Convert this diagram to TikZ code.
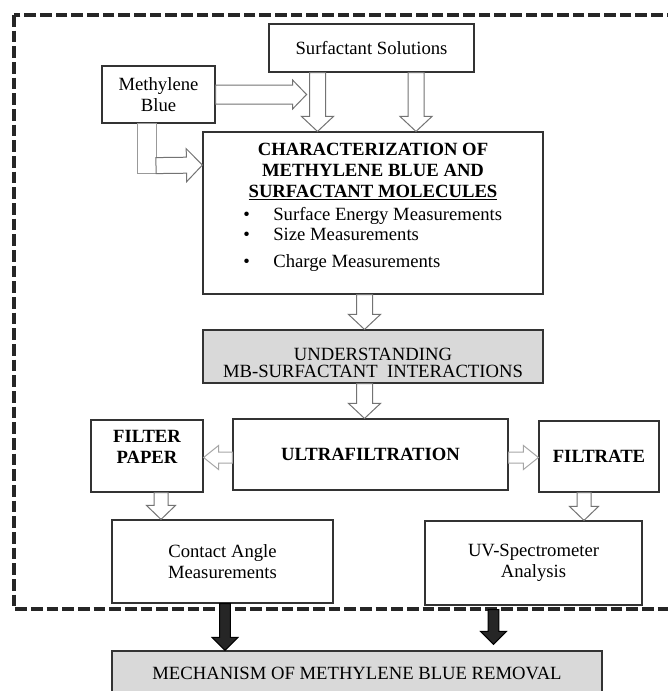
\documentclass[tikz,border=0pt]{standalone}
\usepackage{fontspec}
\setmainfont{Liberation Serif}
\usetikzlibrary{calc}

\newcommand{\diagfont}{\fontsize{11.2}{12.5}\selectfont}
\newcommand{\shaftw}{4.8pt}
\newcommand{\wingw}{9.6pt}
\newcommand{\headl}{9pt}

\begin{document}
\begin{tikzpicture}[x=0.6pt, y=-0.6pt, font=\diagfont,
  box/.style={draw=black!80, line width=0.7pt, fill=white, align=center, inner sep=0pt, font=\diagfont},
  greybox/.style={box, fill=black!15},
  heading/.style={inner sep=0pt, align=center, font=\diagfont\bfseries},
  plain/.style={inner sep=0pt, align=center, font=\fontsize{11.2}{10.5}\selectfont},
  listitem/.style={inner sep=0pt, anchor=base west, font=\diagfont},
  dims/.code n args={3}{\def\shaftw{#1}\def\wingw{#2}\def\headl{#3}},
  blk/.style={draw=black!55, fill=white, line width=0.6pt, to path={
      let \p1=(\tikztostart), \p2=(\tikztotarget), \n1={atan2(\y2-\y1,\x2-\x1)} in
      ($(\p1)+(\n1+90:\shaftw)$) -- ($(\p2)+(\n1+180:\headl)+(\n1+90:\shaftw)$)
      -- ($(\p2)+(\n1+180:\headl)+(\n1+90:\wingw)$) -- (\p2)
      -- ($(\p2)+(\n1+180:\headl)+(\n1-90:\wingw)$)
      -- ($(\p2)+(\n1+180:\headl)+(\n1-90:\shaftw)$)
      -- ($(\p1)+(\n1-90:\shaftw)$) -- cycle}},
  faint/.style={blk, draw=black!35},
  heavy/.style={blk, draw=black, fill=black!85, dims={3.2pt}{7.8pt}{7.8pt}},
  outline/.style={draw=black!85, line width=2.3pt, dash pattern=on 7pt off 2.4pt}]
  \useasboundingbox (0,0) rectangle (668,691);
  \clip (0,0) rectangle (668,691);
  % dashed frame
  \draw[outline] (14,15) rectangle (700,609);
  % nodes
  \node[box, minimum width=123pt, minimum height=28.8pt] (surf) at (371.5,48) {Surfactant Solutions};
  \node[box, minimum width=67.8pt, minimum height=34.2pt] (mb) at (158.5,94.5) {Methylene\\Blue};
  \node[box, minimum width=204pt, minimum height=97.2pt] (char) at (373,213) {};
  \node[heading] (chartitle) at (373,172) {CHARACTERIZATION OF\\METHYLENE BLUE AND\\\underline{SURFACTANT MOLECULES}};
  \node[listitem] (item1) at (243,220) {\makebox[18pt][l]{\textbullet}Surface Energy Measurements};
  \node[listitem] (item2) at (243,240) {\makebox[18pt][l]{\textbullet}Size Measurements};
  \node[listitem] (item3) at (243,267) {\makebox[18pt][l]{\textbullet}Charge Measurements};
  \node[greybox, minimum width=204pt, minimum height=31.8pt] (und) at (373,356.5) {};
  \node[plain] (undtxt) at (373,363) {UNDERSTANDING\\MB-SURFACTANT\ \ INTERACTIONS};
  \node[box, minimum width=165pt, minimum height=42.6pt, font=\diagfont\bfseries] (ultra) at (370.5,454.5) {ULTRAFILTRATION};
  \node[box, minimum width=67.2pt, minimum height=43.2pt] (filter) at (147,456) {};
  \node[heading] (filtertxt) at (147,447) {FILTER\\PAPER};
  \node[box, minimum width=72pt, minimum height=42.6pt, font=\diagfont\bfseries] (filtrate) at (599,456.5) {FILTRATE};
  \node[box, minimum width=132.6pt, minimum height=49.8pt] (contact) at (222.5,561.5) {Contact Angle\\Measurements};
  \node[box, minimum width=130.2pt, minimum height=50.4pt] (uv) at (533.5,563) {UV-Spectrometer\\Analysis};
  \node[greybox, minimum width=294pt, minimum height=26.4pt] (mech) at (357,673) {MECHANISM OF METHYLENE BLUE REMOVAL};
  % helper points
  \coordinate (fdrop) at ($(filter.south)+(14,0)$);
  \coordinate (tdrop) at ($(filtrate.south)+(-15,0)$);
  \coordinate (cdrop) at ($(contact.south)+(2.5,0)$);
  \coordinate (udrop) at ($(uv.south)+(-40,4)$);
  % edges
  \draw[blk] ($(surf.south)+(-54,0)$) to ($(char.north)+(-55.5,0)$);
  \draw[blk] ($(surf.south)+(44.5,0)$) to ($(char.north)+(43,0)$);
  \draw[blk, dims={5.7pt}{8.7pt}{8.4pt}] (mb.east) to ($(mb.east)+(91,0)$);
  \draw[draw=black!40, fill=white, line width=0.6pt] ($(mb.south)+(-21.5,0)$) rectangle ($(mb.south)+(-2.5,50)$);
  \draw[blk, dims={4.8pt}{9.9pt}{9.6pt}] ($(mb.south)+(-2.5,42)$) to ($(char.west)+(0,-48)$);
  \draw[blk] ($(char.south)+(-8.5,0)$) to ($(und.north)+(-8.5,0)$);
  \draw[blk] ($(und.south)+(-8.5,0)$) to ($(ultra.north)+(-6,0)$);
  \draw[faint, dims={3.3pt}{7.2pt}{9pt}] ($(ultra.west)+(0,3)$) to ($(filter.east)+(0,1.5)$);
  \draw[faint, dims={3.3pt}{7.2pt}{9pt}] ($(ultra.east)+(0,3)$) to ($(filtrate.west)+(0,1)$);
  \draw[blk, dims={4.2pt}{8.7pt}{8.4pt}] (fdrop) to (fdrop |- contact.north);
  \draw[blk, dims={4.2pt}{8.7pt}{8.4pt}] (tdrop) to (tdrop |- uv.north);
  \draw[heavy] (cdrop) to (cdrop |- mech.north);
  \draw[heavy] (udrop) to ($(udrop |- mech.north)+(0,-6)$);
\end{tikzpicture}
\end{document}
